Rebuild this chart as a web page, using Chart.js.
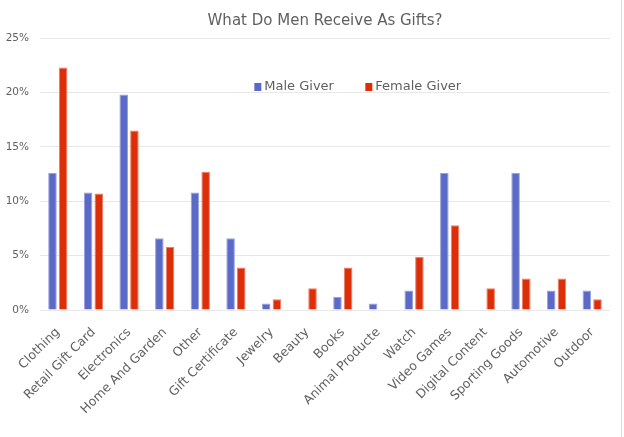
<!DOCTYPE html>
<html>
<head>
<meta charset="utf-8">
<script src="https://cdn.jsdelivr.net/npm/chart.js@4.4.1/dist/chart.umd.min.js"></script>
<style>
  html, body { margin: 0; padding: 0; background: #fff; }
  #wrap { position: relative; width: 624px; height: 437px; }
  #frame { position: absolute; left: 621px; top: 0; width: 1px; height: 437px; background: #d9d9d9; }
</style>
</head>
<body>
<div id="wrap">
  <canvas id="giftChart" width="624" height="437"></canvas>
  <div id="frame"></div>
</div>
<script>
// Data
const categories = [
  'Clothing', 'Retail Gift Card', 'Electronics', 'Home And Garden', 'Other',
  'Gift Certificate', 'Jewelry', 'Beauty', 'Books', 'Animal Producte', 'Watch',
  'Video Games', 'Digital Content', 'Sporting Goods', 'Automotive', 'Outdoor'
];
const maleGiver = [0.126, 0.108, 0.198, 0.066, 0.108, 0.066, 0.006, 0, 0.012, 0.006, 0.018, 0.126, 0, 0.126, 0.018, 0.018];
const femaleGiver = [0.223, 0.107, 0.165, 0.058, 0.127, 0.039, 0.010, 0.020, 0.039, 0, 0.049, 0.078, 0.020, 0.029, 0.029, 0.010];
const yTicks = [0, 0.05, 0.10, 0.15, 0.20, 0.25];

const textColor = '#5f5f5f';
const fontFamily = "'DejaVu Sans', sans-serif";

// Legend drawn inside the plot, like the original
const innerLegend = {
  id: 'innerLegend',
  afterDraw(chart) {
    const ctx = chart.ctx;
    const area = chart.chartArea;
    const items = chart.data.datasets;
    const y = area.top + 49;
    let x = area.left + area.width * 0.376;
    ctx.save();
    ctx.font = '13px ' + fontFamily;
    ctx.textBaseline = 'middle';
    items.forEach(ds => {
      ctx.fillStyle = ds.backgroundColor;
      ctx.fillRect(x, y - 4, 7, 8);
      ctx.fillStyle = textColor;
      ctx.fillText(ds.label, x + 10, y);
      x += 111;
    });
    ctx.restore();
  }
};

const ctx = document.getElementById('giftChart').getContext('2d');
new Chart(ctx, {
  type: 'bar',
  data: {
    labels: categories,
    datasets: [{
      label: 'Male Giver',
      data: maleGiver,
      backgroundColor: '#5a6ac6',
      borderColor: '#97a1de',
      borderWidth: 1,
      categoryPercentage: 0.6,
      barPercentage: 0.8
    }, {
      label: 'Female Giver',
      data: femaleGiver,
      backgroundColor: '#dd2e0a',
      borderColor: '#ef7d62',
      borderWidth: 1,
      categoryPercentage: 0.6,
      barPercentage: 0.8
    }]
  },
  options: {
    responsive: false,
    animation: false,
    layout: { padding: { left: 5, right: 14, top: 0, bottom: 13 } },
    plugins: {
      legend: { display: false },
      tooltip: { enabled: false },
      title: {
        display: true,
        fullSize: false,
        text: 'What Do Men Receive As Gifts?',
        color: textColor,
        font: { family: fontFamily, size: 15, weight: 'normal' },
        padding: { top: 12, bottom: 8 }
      }
    },
    scales: {
      x: {
        grid: { display: false },
        border: { display: false },
        afterFit: axis => { axis.paddingLeft = 0; axis.paddingRight = 0; },
        ticks: {
          color: textColor,
          font: { family: fontFamily, size: 12.5 },
          maxRotation: 45,
          minRotation: 45,
          padding: 7,
          autoSkip: false
        }
      },
      y: {
        min: 0,
        max: 0.25,
        afterBuildTicks: axis => { axis.ticks = yTicks.map(v => ({ value: v })); },
        afterFit: axis => { axis.width = 35; },
        grid: { color: '#e8e8e8', lineWidth: 1, drawTicks: false },
        border: { display: false },
        ticks: {
          color: textColor,
          font: { family: fontFamily, size: 10.5 },
          padding: 11,
          callback: v => Math.round(v * 100) + '%'
        }
      }
    }
  },
  plugins: [innerLegend]
});
</script>
</body>
</html>
